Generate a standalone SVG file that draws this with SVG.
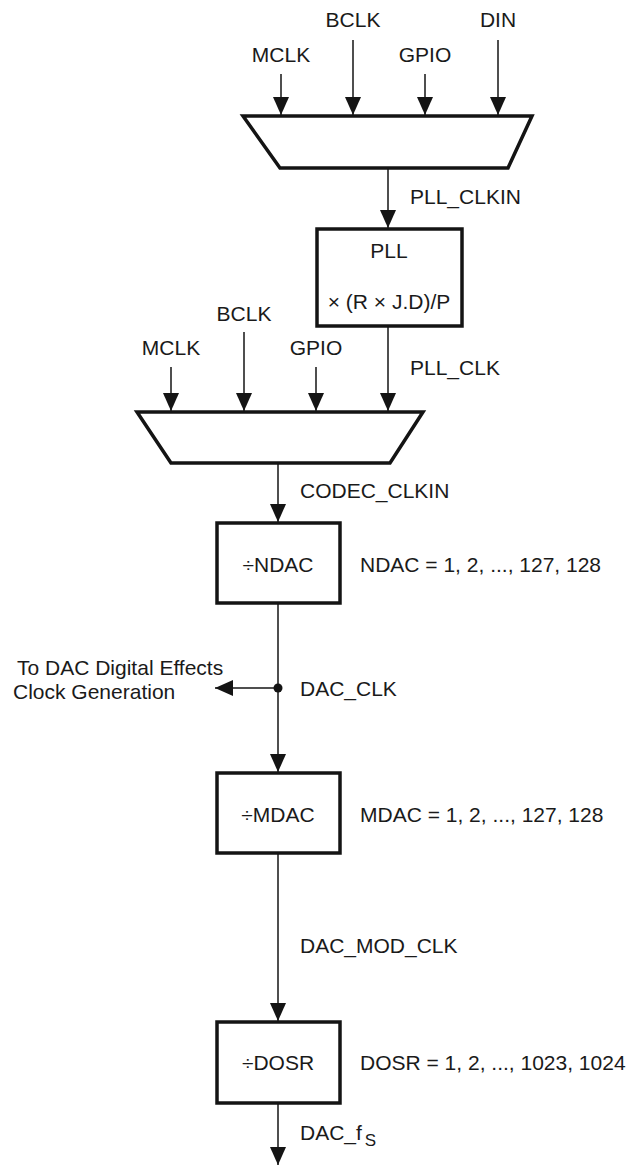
<svg xmlns="http://www.w3.org/2000/svg" width="626" height="1165" viewBox="0 0 626 1165">
<style>
  text { font-family: "Liberation Sans", Arial, sans-serif; font-size: 21px; fill: #1a1a1a; }
  .mid { text-anchor: middle; }
  .blk { fill: #ffffff; stroke: #141414; stroke-width: 3.5; stroke-linejoin: miter; }
  .wire { fill: none; stroke: #141414; stroke-width: 1.5; }
  .arr { marker-end: url(#ah); }
</style>
<defs>
  <marker id="ah" markerUnits="userSpaceOnUse" markerWidth="18" markerHeight="16" refX="18" refY="8" orient="auto">
    <path d="M0,0 L18,8 L0,16 z" fill="#141414"/>
  </marker>
</defs>
<rect width="626" height="1165" fill="#ffffff"/>

<g id="connectors">
  <line class="wire arr" x1="281" y1="74" x2="281" y2="115"/>
  <line class="wire arr" x1="353" y1="40" x2="353" y2="115"/>
  <line class="wire arr" x1="425" y1="74" x2="425" y2="115"/>
  <line class="wire arr" x1="498" y1="40" x2="498" y2="115"/>
  <line class="wire arr" x1="388" y1="168" x2="388" y2="228"/>
  <line class="wire arr" x1="171" y1="367" x2="171" y2="411"/>
  <line class="wire arr" x1="244" y1="332" x2="244" y2="411"/>
  <line class="wire arr" x1="316" y1="367" x2="316" y2="411"/>
  <line class="wire arr" x1="388" y1="326" x2="388" y2="411"/>
  <line class="wire arr" x1="278" y1="463" x2="278" y2="522"/>
  <line class="wire arr" x1="278" y1="603" x2="278" y2="772"/>
  <line class="wire arr" x1="278" y1="688" x2="215" y2="688"/>
  <circle cx="278" cy="688" r="4.5" fill="#141414"/>
  <line class="wire arr" x1="278" y1="853" x2="278" y2="1021"/>
  <line class="wire arr" x1="278" y1="1103" x2="278" y2="1165"/>
</g>

<g id="labels">
  <text class="mid" x="281" y="62">MCLK</text>
  <text class="mid" x="353" y="27">BCLK</text>
  <text class="mid" x="425" y="62">GPIO</text>
  <text class="mid" x="498" y="27">DIN</text>
  <text x="410" y="204">PLL_CLKIN</text>
  <text class="mid" x="171" y="355">MCLK</text>
  <text class="mid" x="244" y="321">BCLK</text>
  <text class="mid" x="316" y="355">GPIO</text>
  <text x="410" y="375">PLL_CLK</text>
  <text x="300" y="498">CODEC_CLKIN</text>
  <text x="360" y="572">NDAC = 1, 2, ..., 127, 128</text>
  <text x="17" y="675">To DAC Digital Effects</text>
  <text x="13" y="699">Clock Generation</text>
  <text x="300" y="696">DAC_CLK</text>
  <text x="360" y="822">MDAC = 1, 2, ..., 127, 128</text>
  <text x="300" y="953">DAC_MOD_CLK</text>
  <text x="360" y="1070">DOSR = 1, 2, ..., 1023, 1024</text>
  <text x="300" y="1140">DAC_f<tspan dx="3" dy="6" font-size="17">S</tspan></text>
</g>

<g id="mux1">
  <polygon class="blk" points="243,116 532,116 508,168 280,168"/>
</g>

<g id="pll">
  <rect class="blk" x="317" y="229" width="145" height="97"/>
  <text class="mid" x="389" y="258">PLL</text>
  <text class="mid" x="389" y="309">× (R × J.D)/P</text>
</g>

<g id="mux2">
  <polygon class="blk" points="137,412 423,412 390,463 171,463"/>
</g>

<g id="ndac">
  <rect class="blk" x="217" y="523" width="123" height="80"/>
  <text class="mid" x="278" y="572">÷NDAC</text>
</g>

<g id="mdac">
  <rect class="blk" x="217" y="773" width="123" height="80"/>
  <text class="mid" x="278" y="822">÷MDAC</text>
</g>

<g id="dosr">
  <rect class="blk" x="217" y="1022" width="123" height="81"/>
  <text class="mid" x="278" y="1070">÷DOSR</text>
</g>
</svg>
